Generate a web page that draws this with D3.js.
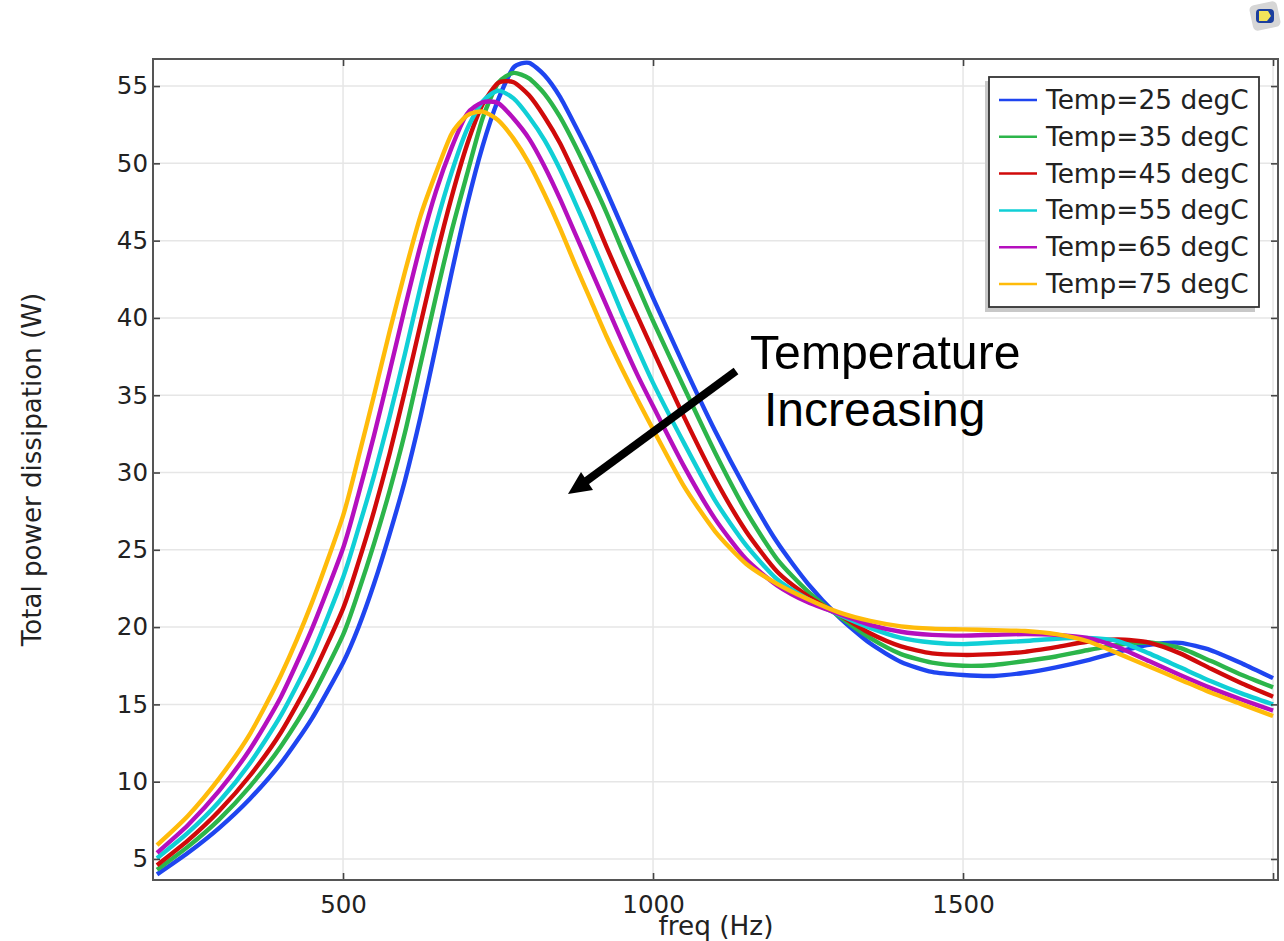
<!DOCTYPE html>
<html><head><meta charset="utf-8">
<script src="https://cdn.jsdelivr.net/npm/d3@7/dist/d3.min.js"></script>
<style>html,body{margin:0;padding:0;background:#fff}svg{display:block}</style>
</head><body><div id="chart"></div>
<script>
const freq = [200,250,300,350,400,450,500,525,550,575,600,625,650,675,700,725,750,775,800,825,850,875,900,925,950,975,1000,1050,1100,1150,1200,1250,1300,1350,1400,1450,1500,1550,1600,1650,1700,1750,1800,1850,1900,1950,2000];
const temp25 = [4.0,5.4,7.0,8.9,11.2,14.1,17.7,20.0,22.8,26.0,29.5,33.6,38.2,42.9,47.3,51.1,54.1,56.2,56.5,55.7,54.3,52.4,50.4,48.2,45.9,43.6,41.3,36.9,32.7,28.9,25.5,22.8,20.65,18.95,17.75,17.1,16.9,16.84,17.05,17.4,17.85,18.4,18.85,18.98,18.5,17.65,16.7];
const temp35 = [4.3,5.8,7.55,9.7,12.3,15.5,19.5,22.3,25.4,28.8,32.6,37.0,41.4,45.6,49.3,52.9,55.2,55.85,55.5,54.5,53.0,51.1,49.0,46.8,44.4,42.1,39.8,35.5,31.3,27.5,24.4,22.3,20.7,19.3,18.25,17.7,17.5,17.55,17.8,18.1,18.5,18.85,19.0,18.65,17.8,16.9,16.1];
const temp45 = [4.6,6.2,8.1,10.4,13.2,16.8,21.2,24.2,27.5,31.2,35.3,39.6,43.9,47.8,51.2,53.8,55.2,55.25,54.4,53.0,51.3,49.2,47.0,44.6,42.3,40.1,37.9,33.6,29.6,26.2,23.6,22.0,20.8,19.6,18.75,18.3,18.2,18.25,18.4,18.7,19.05,19.2,19.0,18.3,17.3,16.35,15.5];
const temp55 = [5.05,6.7,8.7,11.2,14.3,18.2,23.2,26.4,29.8,33.6,37.7,42.0,46.0,49.4,52.2,54.0,54.7,54.2,53.0,51.5,49.6,47.4,45.1,42.7,40.3,38.0,35.8,31.9,28.2,25.3,23.1,21.8,20.8,19.95,19.3,19.0,18.9,19.0,19.1,19.25,19.3,19.1,18.3,17.4,16.5,15.7,15.0];
const temp65 = [5.4,7.2,9.4,12.1,15.5,19.9,25.1,28.6,32.4,36.5,40.7,44.7,48.2,51.0,53.2,53.95,53.9,52.9,51.6,49.8,47.7,45.4,43.1,40.8,38.5,36.3,34.3,30.4,27.0,24.4,22.7,21.6,20.85,20.15,19.7,19.5,19.45,19.5,19.55,19.5,19.3,18.7,17.8,16.9,16.05,15.3,14.6];
const temp75 = [5.9,7.8,10.2,13.1,16.9,21.6,27.2,31.0,35.0,39.1,43.0,46.6,49.4,51.9,53.1,53.35,52.8,51.6,50.0,48.0,45.8,43.4,41.1,38.8,36.7,34.7,32.8,29.1,26.2,24.1,22.8,21.8,20.95,20.4,20.05,19.9,19.85,19.8,19.75,19.55,19.1,18.3,17.45,16.6,15.75,15.0,14.25];
const seriesNames = ["Temp=25 degC","Temp=35 degC","Temp=45 degC","Temp=55 degC","Temp=65 degC","Temp=75 degC"];
const seriesValues = [temp25,temp35,temp45,temp55,temp65,temp75];
const seriesColors = ["#1f45f0","#2cb54a","#d00a0a","#10cfd6","#b50fbe","#ffbb0a"];
const xTicks = [500,1000,1500,2000];
const xTickLabels = ["500","1000","1500",""];
const yTicks = [5,10,15,20,25,30,35,40,45,50,55];
const xTitle = "freq (Hz)";
const yTitle = "Total power dissipation (W)";
const noteLines = ["Temperature","Increasing"];

const W=1284,H=941,L=153,R=1278,T=59,B=880;
const font='"DejaVu Sans",sans-serif', ink='#222';
const svg=d3.select('#chart').append('svg').attr('width',W).attr('height',H).attr('viewBox',`0 0 ${W} ${H}`);
const x=d3.scaleLinear().domain([193.5,2008]).range([L,R]);
const y=d3.scaleLinear().domain([3.64,56.75]).range([B,T]);

// grid
const grid=svg.append('g');
grid.selectAll('line.gx').data(xTicks).join('line').attr('class','gx').attr('x1',d=>x(d)).attr('x2',d=>x(d)).attr('y1',T).attr('y2',B).attr('stroke','#e6e6e6').attr('stroke-width',1.5);
grid.selectAll('line.gy').data(yTicks).join('line').attr('class','gy').attr('x1',L).attr('x2',R).attr('y1',d=>y(d)).attr('y2',d=>y(d)).attr('stroke','#e6e6e6').attr('stroke-width',1.5);

// curves
const line=d3.line().x((d,i)=>x(freq[i])).y(d=>y(d)).curve(d3.curveCardinal.tension(0.35));
svg.append('g').selectAll('path').data(seriesValues).join('path')
  .attr('d',line).attr('fill','none').attr('stroke',(d,i)=>seriesColors[i]).attr('stroke-width',4.4).attr('stroke-linejoin','round');

// axes
function style(g,labels){
  g.select('.domain').remove();
  g.selectAll('.tick line').attr('stroke','#444').attr('stroke-width',1.6);
  if(labels) g.selectAll('.tick text').attr('fill',ink).attr('font-family',font).attr('font-size',24.5);
  else g.selectAll('.tick text').remove();
}
svg.append('g').attr('transform',`translate(0,${B})`).call(d3.axisBottom(x).tickValues(xTicks).tickSize(-7).tickPadding(16).tickFormat((d,i)=>xTickLabels[i])).call(style,true);
svg.append('g').attr('transform',`translate(0,${T})`).call(d3.axisTop(x).tickValues(xTicks).tickSize(-7)).call(style,false);
svg.append('g').attr('transform',`translate(${L},0)`).call(d3.axisLeft(y).tickValues(yTicks).tickSize(-7).tickPadding(5).tickFormat(d3.format('d'))).call(style,true);
svg.append('g').attr('transform',`translate(${R},0)`).call(d3.axisRight(y).tickValues(yTicks).tickSize(-7)).call(style,false);
svg.append('rect').attr('x',L).attr('y',T).attr('width',R-L).attr('height',B-T).attr('fill','none').attr('stroke','#555').attr('stroke-width',2);

// titles
svg.append('text').attr('x',716).attr('y',935).attr('text-anchor','middle').attr('font-family',font).attr('font-size',26.3).attr('fill',ink).text(xTitle);
svg.append('text').attr('transform','translate(41,469.5) rotate(-90)').attr('text-anchor','middle').attr('font-family',font).attr('font-size',26.1).attr('fill',ink).text(yTitle);

// legend
const lg=svg.append('g');
lg.append('rect').attr('x',985).attr('y',81).attr('width',270).attr('height',231).attr('fill','#c8c8c8');
lg.append('rect').attr('x',989).attr('y',77).attr('width',270).attr('height',230).attr('fill','#fff').attr('stroke','#333').attr('stroke-width',1.8);
const rowY=d3.scalePoint().domain(seriesNames).range([100,284]);
const rows=lg.selectAll('g.row').data(seriesNames).join('g').attr('class','row').attr('transform',d=>`translate(0,${rowY(d)})`);
rows.append('line').attr('x1',999).attr('x2',1037).attr('stroke',(d,i)=>seriesColors[i]).attr('stroke-width',2.5);
rows.append('text').attr('x',1046).attr('y',9).attr('font-family',font).attr('font-size',26.4).attr('fill',ink).text(d=>d);

// annotation
const noteFont='"Liberation Sans",Arial,sans-serif';
svg.append('text').attr('x',750).attr('y',369).attr('font-family',noteFont).attr('font-size',48.2).attr('fill','#000').text(noteLines[0]);
svg.append('text').attr('x',764).attr('y',426).attr('font-family',noteFont).attr('font-size',48).attr('fill','#000').text(noteLines[1]);
svg.append('line').attr('x1',736).attr('y1',371).attr('x2',585).attr('y2',482).attr('stroke','#000').attr('stroke-width',8);
svg.append('path').attr('d','M568,494L581,472L593,490Z').attr('fill','#000');

// app badge
const bd=svg.append('g').attr('transform','translate(1265,16)');
bd.append('rect').attr('x',-14).attr('y',-13).attr('width',28).attr('height',26).attr('rx',5).attr('fill','#d6d6d6').attr('transform','rotate(-12)');
bd.append('rect').attr('x',-9).attr('y',-7).attr('width',18).attr('height',14).attr('rx',4).attr('fill','#1c3f9e');
bd.append('path').attr('d','M-6,-5H3L6,0L2,5H-6Z').attr('fill','#f3e35a');
</script></body></html>
